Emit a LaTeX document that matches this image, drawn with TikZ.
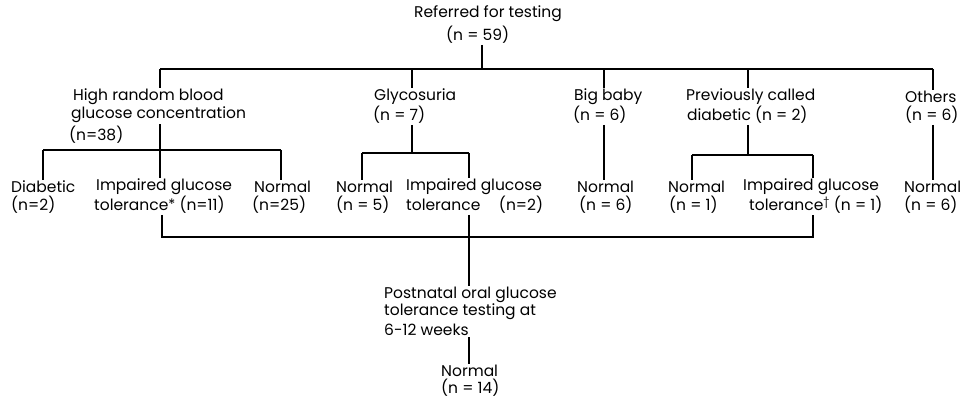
\documentclass[tikz,border=0pt]{standalone}
\usepackage{fontspec}
\setmainfont{Poppins}
\begin{document}
\begin{tikzpicture}[x=1pt,y=-1pt,
  txt/.style={anchor=west, inner sep=1pt, font=\fontsize{15.5}{17}\selectfont},
  conn/.style={line width=1.5pt}]
\useasboundingbox[fill=white] (0,0) rectangle (961,401);
% top
\node[txt] (top1) at (413,14) {Referred for testing};
\node[txt] (top2) at (445,35) {(n = 59)};
% level 1
\node[txt] (hr1) at (72,97) {High random blood};
\node[txt] (hr2) at (70,115) {glucose concentration};
\node[txt] (hr3) at (68,135) {(n=38)};
\node[txt] (gl1) at (373,97) {Glycosuria};
\node[txt] (gl2) at (372,115) {(n = 7)};
\node[txt] (bb1) at (573,97) {Big baby};
\node[txt] (bb2) at (572,115) {(n = 6)};
\node[txt] (pc1) at (685,97) {Previously called};
\node[txt] (pc2) at (686,115) {diabetic (n = 2)};
\node[txt] (ot1) at (904,97) {Others};
\node[txt] (ot2) at (904,115) {(n = 6)};
% leaves
\node[txt] (da1) at (10,187) {Diabetic};
\node[txt] (da2) at (10,205) {(n=2)};
\node[txt] (ia1) at (95,187) {Impaired glucose};
\node[txt] (ia2) at (93,205) {tolerance\raisebox{1pt}{\Large*} (n=11)};
\node[txt] (na1) at (253,187) {Normal};
\node[txt] (na2) at (251,205) {(n=25)};
\node[txt] (nb1) at (335,187) {Normal};
\node[txt] (nb2) at (335,205) {(n = 5)};
\node[txt] (ib1) at (405,187) {Impaired glucose};
\node[txt] (ib2) at (405,205) {tolerance\hspace{1.2em}(n=2)};
\node[txt] (nc1) at (576,187) {Normal};
\node[txt] (nc2) at (578,205) {(n = 6)};
\node[txt] (nd1) at (667,187) {Normal};
\node[txt] (nd2) at (668,205) {(n = 1)};
\node[txt] (id1) at (742,187) {Impaired glucose};
\node[txt] (id2) at (748,205) {tolerance\textsuperscript{\dag} (n = 1)};
\node[txt] (ne1) at (903,187) {Normal};
\node[txt] (ne2) at (903,205) {(n = 6)};
% bottom
\node[txt] (pp1) at (383,295) {Postnatal oral glucose};
\node[txt] (pp2) at (383,312) {tolerance testing at};
\node[txt] (pp3) at (383,330) {6-12 weeks};
\node[txt] (fn1) at (440,371) {Normal};
\node[txt] (fn2) at (440,388) {(n = 14)};
% junction coordinates
\coordinate (j0) at (482,69);
\coordinate (xa) at (160,69);
\coordinate (xb) at (412,69);
\coordinate (xc) at (604,69);
\coordinate (xd) at (748,69);
\coordinate (xe) at (933,69);
\coordinate (ja) at (160,150);
\coordinate (jaL) at (43,150);
\coordinate (jaR) at (281,150);
\coordinate (jb) at (412,153);
\coordinate (jbL) at (362,153);
\coordinate (jbR) at (469,153);
\coordinate (jd) at (748,155);
\coordinate (jdL) at (692,155);
\coordinate (jdR) at (813,155);
\coordinate (kL) at (162,237);
\coordinate (kR) at (813,237);
\coordinate (kM) at (469,237);
% top connectors
\draw[conn] (j0 |- top2.south) -- (j0);
\draw[conn] (xa) -- (xe);
\draw[conn] (xa) -- (xa |- hr1.north);
\draw[conn] (xb) -- (xb |- gl1.north);
\draw[conn] (xc) -- (xc |- bb1.north);
\draw[conn] (xd) -- (xd |- pc1.north);
\draw[conn] (xe) -- (xe |- ot1.north);
% high random subtree
\draw[conn] (ja |- hr2.south) -- (ja);
\draw[conn] (jaL) -- (jaR);
\draw[conn] (jaL) -- (jaL |- da1.north);
\draw[conn] (ja) -- (ja |- ia1.north);
\draw[conn] (jaR) -- (jaR |- na1.north);
% glycosuria subtree
\draw[conn] (jb |- gl2.south) -- (jb);
\draw[conn] (jbL) -- (jbR);
\draw[conn] (jbL) -- (jbL |- nb1.north);
\draw[conn] (jbR) -- (jbR |- ib1.north);
% big baby, others
\draw[conn] (xc |- bb2.south) -- (xc |- nc1.north);
\draw[conn] (xe |- ot2.south) -- (xe |- ne1.north);
% previously called subtree
\draw[conn] (jd |- pc2.south) -- (jd);
\draw[conn] (jdL) -- (jdR);
\draw[conn] (jdL) -- (jdL |- nd1.north);
\draw[conn] (jdR) -- (jdR |- id1.north);
% collecting IGT
\draw[conn] (kL |- ia2.south) -- (kL) -- (kR) -- (kR |- id2.south);
\draw[conn] (kM |- ib2.south) -- (kM |- pp1.north);
\draw[conn] (kM |- pp3.south) -- (kM |- fn1.north);
\end{tikzpicture}
\end{document}
